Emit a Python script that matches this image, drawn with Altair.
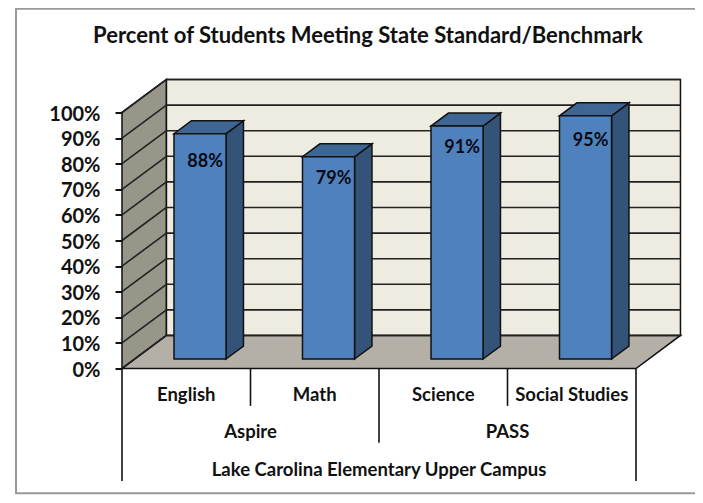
import altair as alt
import pandas as pd

# Data
categories = ["English", "Math", "Science", "Social Studies"]
values = [88, 79, 91, 95]
label_drop = [10.9, 8.5, 8.4, 10.0]      # how far below the bar top each label sits, in %
groups = ["Aspire", "PASS"]
campus = "Lake Carolina Elementary Upper Campus"
ticks = list(range(0, 101, 10))
title = "Percent of Students Meeting State Standard/Benchmark"

FONT = "Lato"
# 3-D projection in data units
DX, DY = 0.346, 12.9
BAR_W, BAR_D0, BAR_D1, BAR_X = 0.405, 0.288, 0.68, 0.305


def proj(x, y, d):
    return x + DX * d, y + DY * d


def poly(rows, pid, color):
    return [dict(x=x, y=y, y2=y2, pid=pid, c=color) for x, y, y2 in rows]


rows = []
# walls and floor
rows += poly([(0, 0, 100), (DX, DY, 100 + DY)], "a_left", "#979689")
rows += poly([(DX, DY, 100 + DY), (4 + DX, DY, 100 + DY)], "b_back", "#EEEBE0")
rows += poly([(0, 0, 0), (DX, 0, DY), (4, 0, DY), (4 + DX, DY, DY)], "c_floor", "#B4B0A8")
walls = pd.DataFrame(rows)

grid = []
for t in ticks:
    grid.append(dict(x=0, y=t, t=f"l{t}"))
    grid.append(dict(x=DX, y=t + DY, t=f"l{t}"))
    grid.append(dict(x=DX, y=t + DY, t=f"b{t}"))
    grid.append(dict(x=4 + DX, y=t + DY, t=f"b{t}"))
grid = pd.DataFrame(grid)

bars = []
labels = []
for i, (v, drop) in enumerate(zip(values, label_drop)):
    x0 = i + BAR_X
    x1 = x0 + BAR_W
    a0x, a0y = proj(x0, 0, BAR_D0)
    a1x, _ = proj(x1, 0, BAR_D0)
    b0x, b0y = proj(x0, 0, BAR_D1)
    b1x, _ = proj(x1, 0, BAR_D1)
    top_f, top_b = a0y + v, b0y + v
    bars += poly([(a1x, a0y, top_f), (b1x, b0y, top_b)], f"s{i}", "#335478")
    bars += poly([(a0x, top_f, top_f), (b0x, top_f, top_b), (a1x, top_f, top_b), (b1x, top_b, top_b)],
                 f"t{i}", "#3F6593")
    bars += poly([(a0x, a0y, top_f), (a1x, a0y, top_f)], f"u{i}", "#4F81BD")
    labels.append(dict(x=(a0x + a1x) / 2 + 0.04, y=top_f - drop, text=f"{v}%"))
bars = pd.DataFrame(bars)
labels = pd.DataFrame(labels)

x = alt.X("x:Q", axis=None, scale=alt.Scale(domain=[0, 4], nice=False, zero=False))
y = alt.Y("y:Q", scale=alt.Scale(domain=[0, 100], nice=False, zero=False),
          axis=alt.Axis(values=ticks, title=None, labelExpr="datum.value + '%'",
                        domain=False, grid=False, tickColor="#111111", tickSize=7, tickWidth=2,
                        labelFont=FONT, labelFontWeight="bold", labelFontSize=20, labelColor="#111111",
                        labelPadding=15, labelOffset=1.5, zindex=1))


def polygons(df):
    return alt.Chart(df).mark_area(stroke="#111111", strokeWidth=1.5).encode(
        x=x, y=y, y2="y2:Q", detail="pid:N", color=alt.Color("c:N", scale=None))


layer_walls = alt.layer(*[polygons(walls[walls.pid == p]) for p in ["a_left", "b_back", "c_floor"]])
layer_grid = alt.Chart(grid).mark_line(color="#222222", strokeWidth=1.6).encode(x=x, y=y, detail="t:N")
layer_bars = alt.layer(*[polygons(bars[bars.pid == p]) for p in bars.pid.unique()])
layer_labels = alt.Chart(labels).mark_text(font=FONT, fontWeight="bold", fontSize=18, color="#0a0a14").encode(
    x=x, y=y, text="text:N")

# multi-level category axis
levels = pd.DataFrame(
    [dict(x=i + 0.5, y=-10.3, text=c) for i, c in enumerate(categories)]
    + [dict(x=1, y=-24.8, text=groups[0]), dict(x=3, y=-24.8, text=groups[1])]
    + [dict(x=2, y=-39.7, text=campus)]
)
dividers = pd.DataFrame({
    "x": [0, 1, 2, 3, 4],
    "y": [0] * 5,
    "y2": [-43.9, -14.6, -29, -14.6, -43.9],
})
layer_div = alt.Chart(dividers).mark_rule(color="#111111", strokeWidth=1.6).encode(x=x, y=y, y2="y2:Q")
layer_levels = alt.Chart(levels).mark_text(font=FONT, fontWeight="bold", fontSize=18.5, color="#111111").encode(
    x=x, y=y, text="text:N")

# chart title, placed through the same scales
layer_title = alt.Chart(pd.DataFrame({"x": [1.914], "y": [130.0], "text": [title]})).mark_text(
    font=FONT, fontWeight="bold", fontSize=22, color="#111111").encode(x=x, y=y, text="text:N")

# picture frame
frame = pd.DataFrame({"x": [4.6, -0.825, -0.825, 4.6], "y": [140.5, 140.5, -48.7, -48.7], "o": [0, 1, 2, 3]})
layer_frame = alt.Chart(frame).mark_line(color="#999999", strokeWidth=2).encode(
    x=x, y=y, order="o:Q")

chart = alt.layer(
    layer_frame, layer_walls, layer_grid, layer_bars, layer_labels, layer_div, layer_levels, layer_title
).properties(
    width=514, height=256,
    padding={"left": 114, "top": 104.5, "right": 59, "bottom": 126.5},
    autosize=alt.AutoSizeParams(type="none"),
).configure_view(stroke=None)

chart.save("out.html", embed_options={"renderer": "svg", "actions": False})
